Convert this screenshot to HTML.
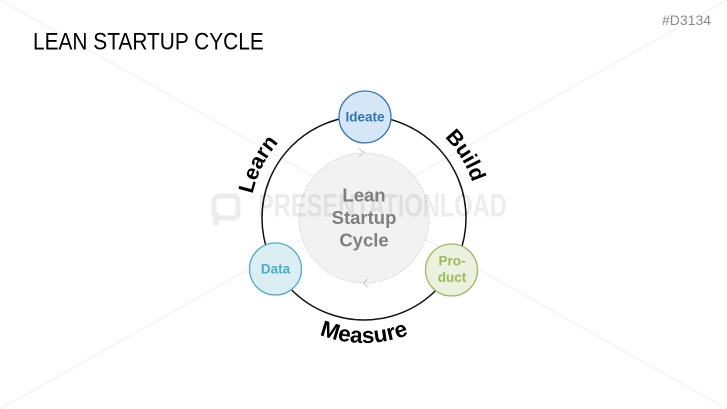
<!DOCTYPE html>
<html>
<head>
<meta charset="utf-8">
<style>
  html,body{margin:0;padding:0;background:#fff;}
  body{width:727px;height:409px;overflow:hidden;position:relative;}
  svg{position:absolute;left:0;top:0;}
</style>
</head>
<body>
<svg width="727" height="409" viewBox="0 0 727 409" xmlns="http://www.w3.org/2000/svg">
  <!-- watermark diagonals -->
  <line x1="0" y1="0" x2="727" y2="409" stroke="#efefef" stroke-width="1"/>
  <line x1="727" y1="0" x2="0" y2="409" stroke="#efefef" stroke-width="1"/>

  <!-- title -->
  <text x="33" y="49.5" font-family="Liberation Sans, sans-serif" font-size="24.5" fill="#000" transform="translate(33,0) scale(0.852,1) translate(-33,0)">LEAN STARTUP CYCLE</text>
  <text x="662" y="25" font-family="Liberation Sans, sans-serif" font-size="14" fill="#8a8a8a">#D3134</text>

  <!-- main cycle circle -->
  <circle cx="364" cy="218" r="102" fill="none" stroke="#111" stroke-width="1.5"/>

  <!-- inner circle -->
  <circle cx="364" cy="218" r="65" fill="#f2f2f2" stroke="#c4c4c4" stroke-width="1" stroke-dasharray="1,1.5"/>
  <!-- small arrowheads -->
  <polyline points="359,148.5 364,152.5 359,156.5" fill="none" stroke="#c8c8c8" stroke-width="1"/>
  <polyline points="368,279 363,283 368,287" fill="none" stroke="#c8c8c8" stroke-width="1"/>

  <!-- watermark text/logo -->
  <g opacity="0.07">
    <rect x="214" y="196" width="24" height="22" rx="5" fill="none" stroke="#000" stroke-width="5"/>
    <rect x="213" y="212" width="6" height="13" fill="#000"/>
    <text x="258" y="216.5" font-family="Liberation Sans, sans-serif" font-weight="bold" font-size="32" fill="#000" transform="translate(258,0) scale(0.74,1) translate(-258,0)">PRESENTATIONLOAD</text>
  </g>

  <!-- inner text -->
  <g font-family="Liberation Sans, sans-serif" font-weight="bold" font-size="18.5" fill="#7f7f7f" text-anchor="middle">
    <text x="364" y="201.5">Lean</text>
    <text x="364" y="224">Startup</text>
    <text x="364" y="246.5">Cycle</text>
  </g>

  <!-- Ideate -->
  <circle cx="365" cy="117" r="26" fill="#d5e7f6" stroke="#2e75b6" stroke-width="1.3"/>
  <text x="365" y="121.5" font-family="Liberation Sans, sans-serif" font-weight="bold" font-size="13.5" fill="#2e75b6" text-anchor="middle">Ideate</text>

  <!-- Data -->
  <circle cx="275.5" cy="269" r="26" fill="#daeef4" stroke="#4bacc6" stroke-width="1.3"/>
  <text x="275.5" y="273.5" font-family="Liberation Sans, sans-serif" font-weight="bold" font-size="13.5" fill="#4bacc6" text-anchor="middle">Data</text>

  <!-- Product -->
  <circle cx="451.5" cy="270" r="26" fill="#ebf1de" stroke="#9bbb59" stroke-width="1.3"/>
  <g font-family="Liberation Sans, sans-serif" font-weight="bold" font-size="13.5" fill="#9bbb59" text-anchor="middle">
    <text x="452" y="265.5">Pro-</text>
    <text x="452" y="282">duct</text>
  </g>

  <!-- curved labels -->
  <defs>
    <path id="pLearn" d="M268.6,280.4 A114,114 0 0 1 357.6,104.2"/>
    <path id="pBuild" d="M360.8,104 A114,114 0 0 1 464.3,272.2"/>
    <path id="pMeasure" d="M255.75,280.5 A125,125 0 0 0 472.25,280.5"/>
  </defs>
  <g font-family="Liberation Sans, sans-serif" font-weight="bold" font-size="21.5" fill="#000">
    <text text-anchor="middle"><textPath href="#pLearn" startOffset="50%">Learn</textPath></text>
    <text text-anchor="middle"><textPath href="#pBuild" startOffset="50%">Build</textPath></text>
    <text text-anchor="middle" font-size="22.5"><textPath href="#pMeasure" startOffset="50%">Measure</textPath></text>
  </g>
</svg>
</body>
</html>
